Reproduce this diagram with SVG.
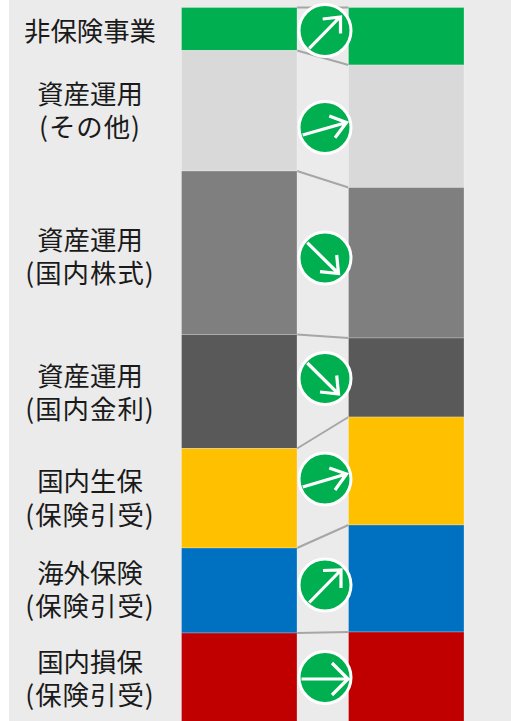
<svg xmlns="http://www.w3.org/2000/svg" width="511" height="721" viewBox="0 0 511 721">
<style>
.b{stroke:#fff;stroke-opacity:.25;stroke-width:1}
.g{fill:#d9d9d9}.m{fill:#7f7f7f}.d{fill:#595959}.y{fill:#ffc000}.u{fill:#0070c0}.r{fill:#c00000}.n{fill:#00b050}
.c{fill:none;stroke:#a6a6a6;stroke-width:2}
.bd{fill:#00b050;stroke:#fff;stroke-width:3}
.a{fill:none;stroke:#fff;stroke-width:3.200}
text{font-family:"Noto Sans CJK JP","Noto Sans",sans-serif;font-size:26.400px;fill:#1a1a1a;text-anchor:middle}
.p{letter-spacing:1px}
</style>
<rect x="9" y="0" width="502" height="721" fill="#ebebeb"/>
<g id="connectors">
<path class="c" d="M297 7.500L348.500 7.500M297 50.500L348.500 65M297 171L348.500 187.500M297 334.500L348.500 338M297 448.500L348.500 417M297 548L348.500 525M297 633L348.500 632"/>
</g>
<g id="bars-left">
<rect class="b n" x="181.500" y="7.500" width="115.500" height="43"/>
<rect class="b g" x="181.500" y="50.500" width="115.500" height="120.500"/>
<rect class="b m" x="181.500" y="171" width="115.500" height="163.500"/>
<rect class="b d" x="181.500" y="334.500" width="115.500" height="114"/>
<rect class="b y" x="181.500" y="448.500" width="115.500" height="99.500"/>
<rect class="b u" x="181.500" y="548" width="115.500" height="85"/>
<rect class="b r" x="181.500" y="633" width="115.500" height="90"/>
</g>
<g id="bars-right">
<rect class="b n" x="348.500" y="7.500" width="115.500" height="57.500"/>
<rect class="b g" x="348.500" y="65" width="115.500" height="122.500"/>
<rect class="b m" x="348.500" y="187.500" width="115.500" height="150.500"/>
<rect class="b d" x="348.500" y="338" width="115.500" height="79"/>
<rect class="b y" x="348.500" y="417" width="115.500" height="108"/>
<rect class="b u" x="348.500" y="525" width="115.500" height="107"/>
<rect class="b r" x="348.500" y="632" width="115.500" height="91"/>
</g>
<g id="labels">
<text x="90" y="41">非保険事業</text>
<text x="90" y="104">資産運用</text>
<text class="p" x="90" y="137">(その他)</text>
<text x="90" y="250">資産運用</text>
<text class="p" x="90" y="283">(国内株式)</text>
<text x="90" y="386">資産運用</text>
<text class="p" x="90" y="419">(国内金利)</text>
<text x="90" y="491">国内生保</text>
<text class="p" x="90" y="525">(保険引受)</text>
<text x="90" y="583">海外保険</text>
<text class="p" x="90" y="616">(保険引受)</text>
<text x="90" y="672">国内損保</text>
<text class="p" x="90" y="705">(保険引受)</text>
</g>
<g id="arrow-1"><circle class="bd" cx="325" cy="30.500" r="26"/><path class="a" d="M309.300 48.300L340 17M322.700 19L340.500 17L340.500 33.500"/></g>
<g id="arrow-2"><circle class="bd" cx="325" cy="127.500" r="26"/><path class="a" d="M302.700 135L346.500 122.500M329.300 116L346.500 122.500L335 137.700"/></g>
<g id="arrow-3"><circle class="bd" cx="325" cy="258" r="26"/><path class="a" d="M307.300 242.700L338.500 273.500M336.700 255L338.500 273.500L320 271.700"/></g>
<g id="arrow-4"><circle class="bd" cx="325" cy="378.500" r="26"/><path class="a" d="M307.300 363L338.500 394M336.700 375.500L338.500 394L320 392"/></g>
<g id="arrow-5"><circle class="bd" cx="325" cy="479" r="26"/><path class="a" d="M302.700 487L346.500 474M329.300 468L346.500 474L335 490"/></g>
<g id="arrow-6"><circle class="bd" cx="325" cy="585" r="26"/><path class="a" d="M309.300 602.500L341 570M323 570.500L341 570L341 588"/></g>
<g id="arrow-7"><circle class="bd" cx="325" cy="677.500" r="26"/><path class="a" d="M301.500 679L348 679M332 663L348 679L332 695"/></g>
</svg>
